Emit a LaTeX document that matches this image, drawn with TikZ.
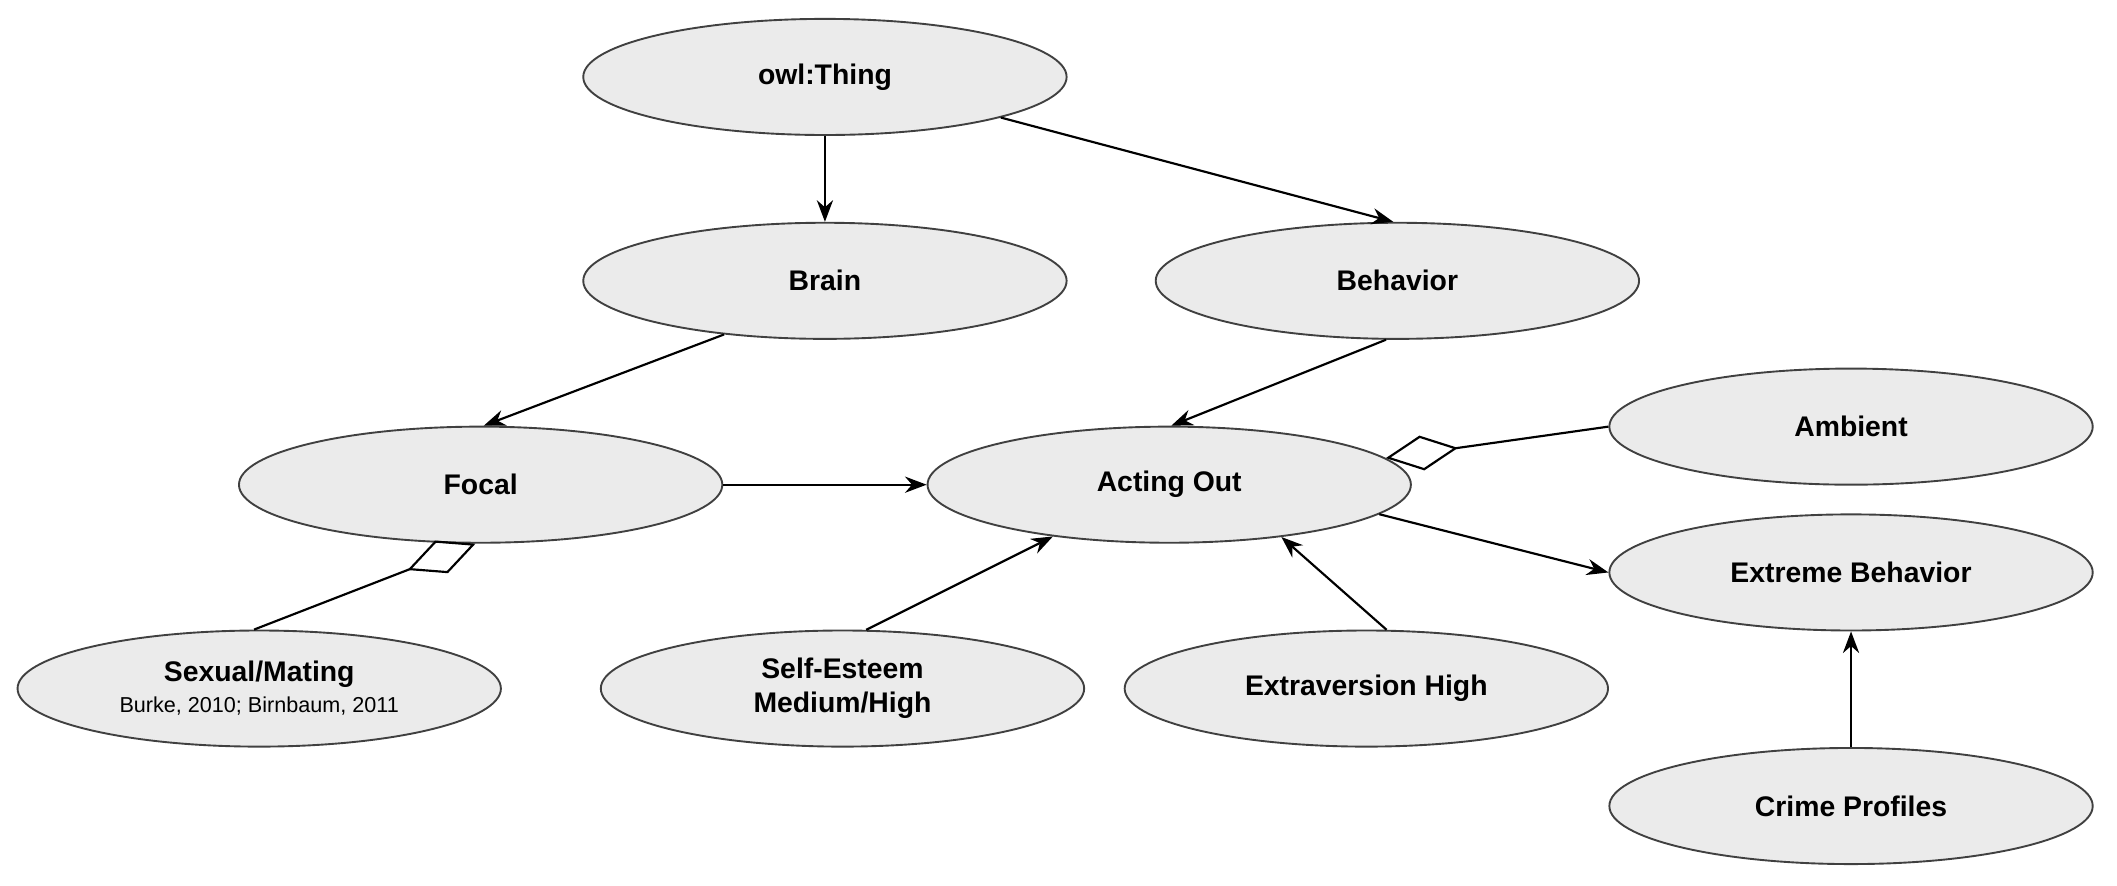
\documentclass[tikz,border=0pt]{standalone}
\usepackage{fontspec}
\setmainfont{Liberation Sans}
\usetikzlibrary{shapes.geometric,arrows.meta}
\begin{document}
\begin{tikzpicture}[x=0.5pt,y=-0.5pt,
  el/.style={ellipse,draw=black!75,fill=black!8,line width=0.7pt,minimum width=179pt,minimum height=43pt,inner sep=0pt,font=\bfseries\fontsize{10.5}{12.5}\selectfont,align=center},
  arr/.style={-{Stealth[length=8pt,width=6pt]},line width=0.8pt},
  agg/.style={-{Diamond[open,length=27pt,width=13pt]},line width=0.8pt}]
\useasboundingbox (0,0) rectangle (1568,656);
\node[el] (thing) at (611,57) {owl:Thing};
\node[el] (brain) at (611,208) {Brain};
\node[el] (beh) at (1035,208) {Behavior};
\node[el] (focal) at (356,359) {Focal};
\node[el] (act) at (866,359) {Acting Out};
\node[el] (amb) at (1371,316) {Ambient};
\node[el] (ext) at (1371,424) {Extreme Behavior};
\node[el] (sex) at (192,510) {Sexual/Mating\\[-1pt]{\mdseries\fontsize{8}{10}\selectfont Burke, 2010; Birnbaum, 2011}};
\node[el] (self) at (624,510) {Self-Esteem\\Medium/High};
\node[el] (extra) at (1012,510) {Extraversion High};
\node[el] (crime) at (1371,597) {Crime Profiles};
\draw[arr] (thing.south) -- (brain.north);
\draw[arr] (thing.-13) -- (beh.94);
\draw[arr] (brain.208) -- (focal.87);
\draw[arr] (beh.259) -- (act.88);
\draw[arr] (focal.east) -- (act.west);
\draw[agg] (amb.west) -- (act.7);
\draw[arr] (act.-8) -- (ext.west);
\draw[arr] (self.68) -- (act.204);
\draw[arr] (extra.71) -- (act.335);
\draw[agg] (sex.95) -- (focal.265);
\draw[arr] (crime.north) -- (ext.south);
\end{tikzpicture}
\end{document}
